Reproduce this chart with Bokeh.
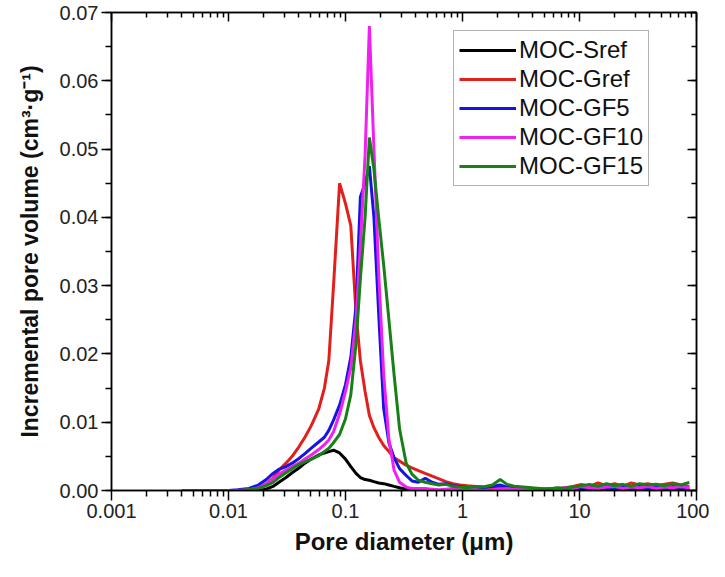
from bokeh.plotting import figure
from bokeh.models import (FixedTicker, LinearAxis, LogAxis, SingleIntervalTicker,
                          PrintfTickFormatter, CustomJSTickFormatter, Legend, LegendItem)
from bokeh.embed import file_html
from bokeh.resources import INLINE

# ---------------- data ----------------
diameter_um = [0.004, 0.005, 0.006, 0.008, 0.010, 0.012, 0.015, 0.018, 0.021, 0.024,
               0.027, 0.031, 0.035, 0.040, 0.045, 0.051, 0.059, 0.066, 0.072, 0.079,
               0.089, 0.100, 0.111, 0.123, 0.134, 0.147, 0.160, 0.175, 0.192, 0.212,
               0.235, 0.26, 0.29, 0.33, 0.37, 0.42,
               0.48, 0.55, 0.63, 0.72, 0.83, 0.95, 1.1, 1.3, 1.5, 1.8,
               2.1, 2.4, 2.8, 3.3, 3.9, 4.6, 5.4, 6.4, 7.5, 8.8,
               10.4, 12.2, 14.4, 17, 20, 23.5, 27.7, 32.6, 38.4, 45.2,
               53.2, 62.6, 73.7, 86.8]

moc_sref = [0, 0, 0, 0, 0, 0, 0, 0, 0.0002, 0.0006,
            0.0012, 0.0019, 0.0026, 0.0033, 0.0040, 0.0046, 0.0052, 0.0055, 0.0057, 0.0059,
            0.0055, 0.0046, 0.0035, 0.0025, 0.0019, 0.0016, 0.0015, 0.0013, 0.0011, 0.0010,
            0.0008, 0.0006, 0.0004, 0.0002, 0.0001, 0.0001,
            0.0001, 0, 0, 0, 0, 0, 0, 0, 0, 0,
            0, 0, 0, 0, 0, 0, 0, 0, 0.0001, 0.0001,
            0.0002, 0.0001, 0.0002, 0.0001, 0.0002, 0.0001, 0.0002, 0.0001, 0.0002, 0.0002,
            0.0001, 0.0002, 0.0001, 0.0001]

moc_gref = [0, 0, 0, 0, 0, 0, 0.0001, 0.0004, 0.0010, 0.0018,
            0.0030, 0.0040, 0.0050, 0.0064, 0.0078, 0.0095, 0.0119, 0.0150, 0.0190, 0.0300,
            0.0450, 0.0420, 0.0388, 0.0260, 0.0190, 0.0145, 0.0110, 0.0092, 0.0078, 0.0066,
            0.0057, 0.0048, 0.0043, 0.0037, 0.0033, 0.0029,
            0.0025, 0.0021, 0.0017, 0.0013, 0.0010, 0.0008, 0.0007, 0.0006, 0.0005, 0.0004,
            0.0006, 0.0004, 0.0005, 0.0004, 0.0003, 0.0002, 0.0003, 0.0002, 0.0004, 0.0006,
            0.0009, 0.0006, 0.0011, 0.0007, 0.0010, 0.0006, 0.0011, 0.0008, 0.0010, 0.0007,
            0.0009, 0.0011, 0.0008, 0.0006]

moc_gf5 = [0, 0, 0, 0, 0, 0.0001, 0.0003, 0.0008, 0.0016, 0.0025,
           0.0031, 0.0035, 0.0040, 0.0047, 0.0054, 0.0062, 0.0071, 0.0078, 0.0088, 0.0103,
           0.0125, 0.0155, 0.0195, 0.0270, 0.0430, 0.0450, 0.0475, 0.0400, 0.0260, 0.0120,
           0.0070, 0.0048, 0.0032, 0.0022, 0.0014, 0.0012,
           0.0018, 0.0012, 0.0009, 0.0010, 0.0007, 0.0006, 0.0004, 0.0005, 0.0003, 0.0006,
           0.0008, 0.0005, 0.0006, 0.0004, 0.0003, 0.0002, 0.0001, 0.0002, 0.0003, 0.0004,
           0.0005, 0.0003, 0.0006, 0.0004, 0.0003, 0.0005, 0.0004, 0.0006, 0.0003, 0.0005,
           0.0004, 0.0006, 0.0005, 0.0002]

moc_gf10 = [0, 0, 0, 0, 0, 0, 0.0001, 0.0004, 0.0010, 0.0017,
            0.0024, 0.0030, 0.0035, 0.0040, 0.0046, 0.0052, 0.0060, 0.0067, 0.0074, 0.0086,
            0.0112, 0.0145, 0.0180, 0.0250, 0.0360, 0.0490, 0.0680, 0.0500, 0.0320, 0.0170,
            0.0075, 0.0030, 0.0012, 0.0005, 0.0003, 0.0003,
            0.0003, 0.0002, 0.0001, 0.0002, 0.0003, 0.0001, 0.0002, 0.0001, 0.0000, 0.0001,
            0.0002, 0.0003, 0.0001, 0.0002, 0.0001, 0.0001, 0.0002, 0.0003, 0.0004, 0.0003,
            0.0006, 0.0004, 0.0003, 0.0005, 0.0006, 0.0003, 0.0005, 0.0004, 0.0006, 0.0003,
            0.0005, 0.0004, 0.0006, 0.0004]

moc_gf15 = [0, 0, 0, 0, 0, 0, 0.0001, 0.0003, 0.0007, 0.0012,
            0.0019, 0.0026, 0.0032, 0.0038, 0.0042, 0.0046, 0.0051, 0.0057, 0.0062, 0.0070,
            0.0082, 0.0105, 0.0140, 0.0215, 0.0310, 0.0400, 0.0517, 0.0470, 0.0400, 0.0330,
            0.0250, 0.0170, 0.0090, 0.0040, 0.0024, 0.0015,
            0.0012, 0.0010, 0.0008, 0.0009, 0.0006, 0.0005, 0.0004, 0.0006, 0.0005, 0.0008,
            0.0016, 0.0009, 0.0006, 0.0005, 0.0004, 0.0003, 0.0002, 0.0004, 0.0003, 0.0005,
            0.0007, 0.0009, 0.0006, 0.0010, 0.0007, 0.0009, 0.0006, 0.0010, 0.0008, 0.0009,
            0.0007, 0.0010, 0.0008, 0.0012]

series_names = ["MOC-Sref", "MOC-Gref", "MOC-GF5", "MOC-GF10", "MOC-GF15"]
series_values = [moc_sref, moc_gref, moc_gf5, moc_gf10, moc_gf15]
series_colors = ["#000000", "#e0201c", "#1515e0", "#f020f0", "#178017"]

x_major_ticks = [0.001, 0.01, 0.1, 1, 10, 100]
x_tick_labels = ["0.001", "0.01", "0.1", "1", "10", "100"]

FONT = "Liberation Sans"

# ---------------- figure ----------------
p = figure(width=709, height=561, x_axis_type="log",
           x_range=(0.001, 100), y_range=(0, 0.07),
           output_backend="svg", toolbar_location=None,
           min_border_left=111, min_border_right=13,
           min_border_top=12, min_border_bottom=71)
p.grid.visible = False
p.outline_line_color = "black"
p.outline_line_width = 1.5
p.background_fill_color = "white"
p.border_fill_color = "white"

x_minor = [m * t for t in x_major_ticks[:-1] for m in range(2, 10)]
xticker = FixedTicker(ticks=x_major_ticks, minor_ticks=x_minor)
yticker = SingleIntervalTicker(interval=0.01, num_minor_ticks=2)

xa = p.xaxis[0]
xa.ticker = xticker
xa.major_label_overrides = {t: l for t, l in zip(x_major_ticks, x_tick_labels)}
xa.axis_label = "Pore diameter (μm)"

ya = p.yaxis[0]
ya.ticker = yticker
ya.formatter = PrintfTickFormatter(format="%.2f")
ya.axis_label = "Incremental pore volume (cm³·g⁻¹)"

for ax in (xa, ya):
    ax.axis_line_width = 1.5
    ax.major_tick_line_width = 1.5
    ax.minor_tick_line_width = 1.5
    ax.major_tick_out = 10
    ax.major_tick_in = 0
    ax.minor_tick_out = 6
    ax.minor_tick_in = 0
    ax.major_label_text_font = FONT
    ax.major_label_text_font_size = "20px"
    ax.major_label_text_color = "#222222"
    ax.major_label_standoff = 3
    ax.axis_label_text_font = FONT
    ax.axis_label_text_font_style = "bold"
    ax.axis_label_text_color = "#111111"

xa.axis_label_text_font_size = "24px"
xa.axis_label_standoff = 7
ya.axis_label_text_font_size = "23px"
ya.axis_label_standoff = 14

blank = CustomJSTickFormatter(code="return ''")
top = LogAxis(ticker=xticker, formatter=blank)
right = LinearAxis(ticker=yticker, formatter=blank)
for ax in (top, right):
    ax.axis_line_width = 1.5
    ax.major_tick_line_width = 1.5
    ax.minor_tick_line_width = 1.5
    ax.major_tick_in = 9
    ax.major_tick_out = 0
    ax.minor_tick_in = 5
    ax.minor_tick_out = 0
    ax.major_label_standoff = 0
    ax.major_label_text_font_size = "1px"
p.add_layout(top, "above")
p.add_layout(right, "right")

items = []
for name, vals, col in zip(series_names, series_values, series_colors):
    r = p.line(diameter_um, vals, line_color=col, line_width=3)
    items.append(LegendItem(label=name, renderers=[r]))

legend = Legend(items=items, location=(342, 304))
legend.label_text_font = FONT
legend.label_text_font_size = "24px"
legend.label_text_color = "#111111"
legend.glyph_width = 57
legend.glyph_height = 26
legend.label_height = 26
legend.label_standoff = 3
legend.spacing = 1
legend.padding = 5
legend.margin = 0
legend.border_line_color = "#666666"
legend.border_line_width = 1
legend.background_fill_color = "white"
p.add_layout(legend, "center")

open("out.html", "w").write(file_html(p, INLINE))
